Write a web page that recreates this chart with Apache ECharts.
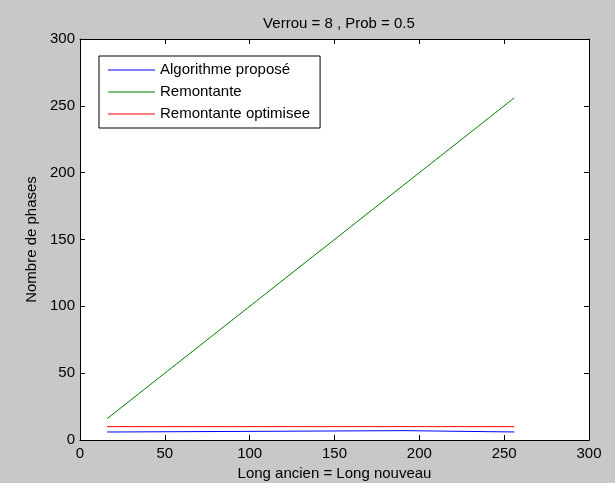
<!DOCTYPE html>
<html>
<head>
<meta charset="utf-8">
<script src="https://cdn.jsdelivr.net/npm/echarts@6/dist/echarts.min.js"></script>
<style>
  html, body { margin: 0; padding: 0; background: #c8c8c8; }
  #chart { width: 615px; height: 483px; }
</style>
</head>
<body>
<div id="chart"></div>
<script>
// Number of phases against block length (Verrou = 8, Prob = 0.5)
const seriesNames = ['Algorithme proposé', 'Remontante', 'Remontante optimisee'];
const seriesColors = ['#0000ff', '#008000', '#ff0000'];

// [length, phases] points for each method
const algoPropose = [[16, 6], [23, 6], [24, 7], [191, 7], [192, 6], [256, 6]];
const remontante = [[16, 16], [256, 256]];
const remontanteOpt = [[16, 10], [256, 10]];

const xTicks = [0, 50, 100, 150, 200, 250, 300];
const yTicks = [0, 50, 100, 150, 200, 250, 300];

const font = 'Liberation Sans, Arial, sans-serif';
const fs = 15;
const chart = echarts.init(document.getElementById('chart'), null, { renderer: 'canvas' });

const axisBase = {
  type: 'value',
  min: xTicks[0],
  max: xTicks[xTicks.length - 1],
  interval: 50,
  axisLine: { show: true, onZero: false, lineStyle: { color: '#000', width: 1 } },
  axisTick: { show: true, inside: true, length: 5, lineStyle: { color: '#000' } },
  splitLine: { show: false }
};

chart.setOption({
  backgroundColor: '#c8c8c8',
  animation: false,
  title: {
    text: 'Verrou = 8 , Prob = 0.5',
    left: 334, top: 11, textAlign: 'center',
    textStyle: { fontFamily: font, fontSize: fs, fontWeight: 'normal', color: '#000' }
  },
  grid: {
    left: 80, right: 26, top: 39, bottom: 43,
    outerBoundsMode: 'none', containLabel: false,
    show: true, backgroundColor: '#fff', borderWidth: 0
  },
  legend: {
    orient: 'vertical',
    left: 99, top: 56,
    padding: [6, 10, 6, 9],
    icon: 'rect',
    itemWidth: 47, itemHeight: 1, itemGap: 6,
    borderColor: '#000', borderWidth: 1, backgroundColor: '#fff', borderRadius: 0,
    textStyle: { fontFamily: font, fontSize: fs, lineHeight: 16, color: '#000' },
    data: seriesNames
  },
  xAxis: [
    Object.assign({}, axisBase, {
      position: 'bottom',
      name: 'Long ancien = Long nouveau',
      nameLocation: 'middle', nameGap: 23,
      nameTextStyle: { fontFamily: font, fontSize: fs, color: '#000' },
      axisLabel: { fontFamily: font, fontSize: fs, color: '#000', margin: 6 }
    }),
    Object.assign({}, axisBase, { position: 'top', axisLabel: { show: false } })
  ],
  yAxis: [
    Object.assign({}, axisBase, {
      min: yTicks[0], max: yTicks[yTicks.length - 1],
      position: 'left',
      name: 'Nombre de phases',
      nameLocation: 'middle', nameGap: 30,
      nameTextStyle: { fontFamily: font, fontSize: fs, color: '#000' },
      axisLabel: { fontFamily: font, fontSize: fs, color: '#000', margin: 5 }
    }),
    Object.assign({}, axisBase, {
      min: yTicks[0], max: yTicks[yTicks.length - 1],
      position: 'right', axisLabel: { show: false }
    })
  ],
  series: [
    { name: seriesNames[0], data: algoPropose },
    { name: seriesNames[1], data: remontante },
    { name: seriesNames[2], data: remontanteOpt }
  ].map((s, i) => ({
    name: s.name,
    type: 'line',
    data: s.data,
    symbol: 'none',
    color: seriesColors[i],
    lineStyle: { color: seriesColors[i], width: 1 }
  }))
});
</script>
</body>
</html>
